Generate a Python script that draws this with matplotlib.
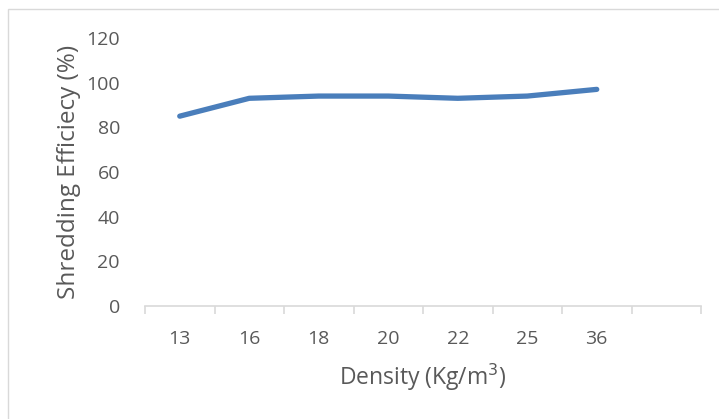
import matplotlib
matplotlib.use("Agg")
import matplotlib.pyplot as plt
from matplotlib.patches import Rectangle

density = ["13", "16", "18", "20", "22", "25", "36"]
efficiency = [85, 93, 94, 94, 93, 94, 97]
n_slots = 8  # Excel axis leaves one empty category on the right

plt.rcParams["font.family"] = ["Open Sans", "DejaVu Sans"]

W, H = 719, 419
fig = plt.figure(figsize=(W / 100, H / 100), dpi=100)
ax = fig.add_axes([145 / W, (H - 306) / H, (701 - 145) / W, (306 - 38) / H])

x = list(range(len(density)))
ax.plot(x, efficiency, color="#4a7ebb", linewidth=3.8, solid_capstyle="round",
        solid_joinstyle="round")

ax.set_xlim(-0.5, n_slots - 0.5)
ax.set_ylim(0, 120)
ax.set_yticks(range(0, 121, 20))
ax.set_xticks(x)
ax.set_xticklabels(density)
ax.set_xticks([i - 0.5 for i in range(n_slots + 1)], minor=True)

for s in ("top", "right", "left"):
    ax.spines[s].set_visible(False)
ax.spines["bottom"].set_color("#d9d9d9")
ax.spines["bottom"].set_linewidth(1.2)

ax.tick_params(axis="x", which="major", length=0, pad=17, labelsize=14,
               labelcolor="#595959")
ax.tick_params(axis="x", which="minor", length=6, width=1.2, color="#d9d9d9")
ax.tick_params(axis="y", length=0, pad=18, labelsize=14, labelcolor="#595959")

ax.set_xlabel("Density (Kg/m$^3$)", fontsize=16.5, color="#595959", labelpad=10)
ax.set_ylabel("Shredding Efficiecy (%)", fontsize=17.5, color="#595959", labelpad=4)

# outer chart-area border
fig.patches.append(Rectangle((8 / W, -0.01), 1.0, (H - 9) / H + 0.01,
                             transform=fig.transFigure, fill=False,
                             edgecolor="#d9d9d9", linewidth=1.0))

fig.savefig("out.png", dpi=100, facecolor="white")
